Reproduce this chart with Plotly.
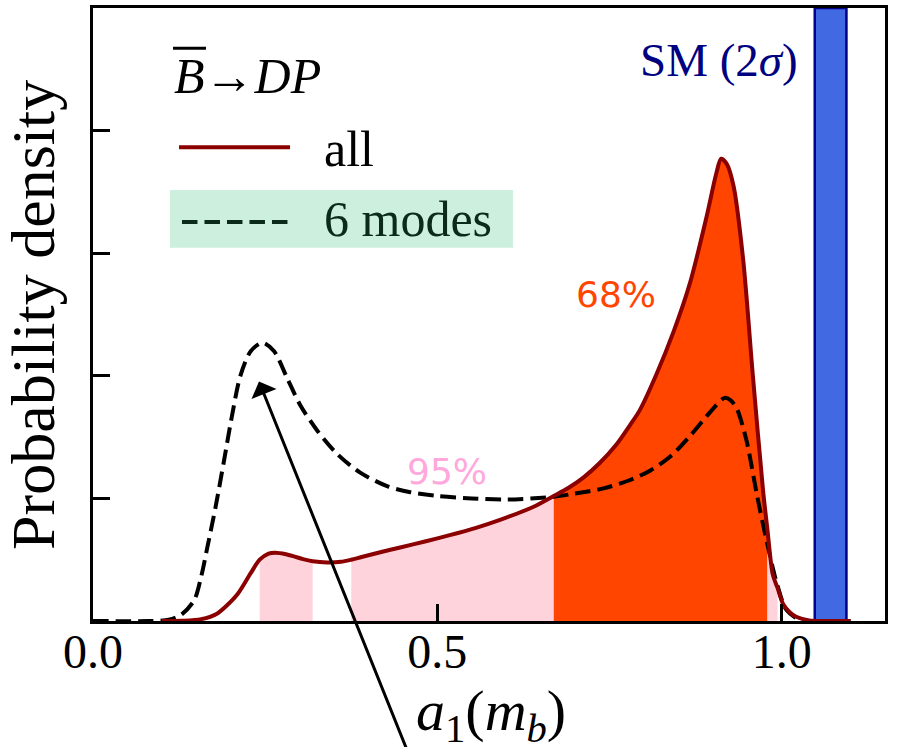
import plotly.graph_objects as go

# a1(m_b) posterior densities for B-bar -> D P
x_all = [0.10, 0.13, 0.157, 0.18, 0.195, 0.21, 0.229, 0.242, 0.255, 0.265, 0.28, 0.292,
         0.305, 0.319, 0.34, 0.36, 0.375, 0.39, 0.42, 0.446, 0.482, 0.518, 0.555, 0.591,
         0.639, 0.669, 0.69, 0.712, 0.735, 0.760, 0.78, 0.794, 0.818, 0.843, 0.867, 0.891,
         0.905, 0.912, 0.92, 0.93, 0.944, 0.958, 0.973, 0.979, 0.987, 0.994, 1.002,
         1.012, 1.021, 1.04, 1.06, 1.10]
y_all = [0.0, 0.002, 0.015, 0.06, 0.13, 0.22, 0.39, 0.50, 0.55, 0.557, 0.545, 0.527,
         0.505, 0.488, 0.478, 0.483, 0.50, 0.522, 0.565, 0.60, 0.648, 0.70, 0.758, 0.825,
         0.93, 1.02, 1.085, 1.17, 1.285, 1.44, 1.60, 1.72, 2.01, 2.36, 2.76, 3.30,
         3.65, 3.77, 3.73, 3.55, 2.95, 2.01, 1.06, 0.76, 0.38, 0.27, 0.14,
         0.07, 0.035, 0.005, 0.0, 0.0]

x_six = [0.0, 0.08, 0.11, 0.128, 0.147, 0.157, 0.166, 0.178, 0.19, 0.202, 0.214, 0.229,
         0.246, 0.263, 0.282, 0.301, 0.326, 0.355, 0.388, 0.427, 0.461, 0.50, 0.55,
         0.60, 0.669, 0.70, 0.74, 0.78, 0.81, 0.84, 0.867, 0.891, 0.905, 0.917, 0.926,
         0.935, 0.949, 0.964, 0.978, 0.993, 1.007, 1.027, 1.05, 1.10]
y_six = [0.0, 0.0, 0.01, 0.05, 0.17, 0.36, 0.60, 0.93, 1.30, 1.68, 2.00, 2.20,
         2.27, 2.20, 1.98, 1.76, 1.55, 1.36, 1.21, 1.10, 1.05, 1.02, 1.0,
         0.99, 1.013, 1.04, 1.08, 1.15, 1.23, 1.35, 1.51, 1.67, 1.76, 1.82, 1.80,
         1.73, 1.47, 1.03, 0.657, 0.306, 0.089, 0.008, 0.0, 0.0]

# credible intervals of the "all" density (pink = 95%, orange = 68%)
band95 = [(0.242, 0.319), (0.375, 0.669), (0.979, 0.994)]
band68 = [(0.669, 0.979)]

# Standard Model 2-sigma range
sm_range = (1.048, 1.094)

x_ticks = [0.0, 0.5, 1.0]
x_tick_labels = ["0.0", "0.5", "1.0"]
y_ticks = [0, 1, 2, 3, 4, 5]

SERIF = "Liberation Serif, Times New Roman, serif"
SANS = "DejaVu Sans"
DARKRED = "#8B0000"
PINK = "#FFD3DC"
ORANGE = "#FF4500"

fig = go.Figure()


def segment(lo, hi):
    xs, ys = [], []
    for xv, yv in zip(x_all, y_all):
        if lo - 1e-9 <= xv <= hi + 1e-9:
            xs.append(xv)
            ys.append(yv)
    return xs, ys


for lo, hi in band95:
    xs, ys = segment(lo, hi)
    fig.add_trace(go.Scatter(x=xs, y=ys, mode="lines", fill="tozeroy",
                             fillcolor=PINK, line=dict(width=0, shape="spline", smoothing=0.8),
                             hoverinfo="skip", showlegend=False))
for lo, hi in band68:
    xs, ys = segment(lo, hi)
    fig.add_trace(go.Scatter(x=xs, y=ys, mode="lines", fill="tozeroy",
                             fillcolor=ORANGE, line=dict(width=0, shape="spline", smoothing=0.8),
                             hoverinfo="skip", showlegend=False))

fig.add_trace(go.Scatter(x=x_six, y=y_six, mode="lines", name="6 modes",
                         line=dict(color="black", width=4, dash="15.5px,7px",
                                   shape="spline", smoothing=0.8),
                         showlegend=False))
fig.add_trace(go.Scatter(x=x_all, y=y_all, mode="lines", name="all",
                         line=dict(color=DARKRED, width=4, shape="spline", smoothing=0.8),
                         showlegend=False))

# SM band
fig.add_shape(type="rect", xref="x", yref="y", x0=sm_range[0], x1=sm_range[1],
              y0=0, y1=5, fillcolor="#4169E1", line=dict(color="#00008B", width=2.5),
              layer="below")

# legend drawn by hand
fig.add_shape(type="rect", xref="x", yref="y", x0=0.1118, x1=0.6099, y0=3.044, y1=3.515,
              fillcolor="#CDEFDE", line=dict(width=0), layer="below")
fig.add_shape(type="line", xref="x", yref="y", x0=0.1249, x1=0.2861, y0=3.864, y1=3.864,
              line=dict(color=DARKRED, width=4))
fig.add_shape(type="line", xref="x", yref="y", x0=0.1292, x1=0.283, y0=3.255, y1=3.255,
              line=dict(color="#0b2a1a", width=4, dash="15.5px,7px"))
# bar over the B
fig.add_shape(type="line", xref="x", yref="y", x0=0.1162, x1=0.1641, y0=4.671, y1=4.671,
              line=dict(color="black", width=3))

annotations = [
    dict(x=0.1147, y=4.448, text="<i>B</i>\u2192<i>DP</i>", xanchor="left",
         font=dict(family=SERIF, size=50, color="black")),
    dict(x=0.3325, y=3.847, text="all", xanchor="left",
         font=dict(family=SERIF, size=50, color="black")),
    dict(x=0.3325, y=3.279, text="6 modes", xanchor="left",
         font=dict(family=SERIF, size=50, color="#0b2a1a")),
    dict(x=1.0266, y=4.578, text="SM (2<i>\u03c3</i>)", xanchor="right",
         font=dict(family=SERIF, size=47, color="#000080")),
    dict(x=0.7594, y=2.662, text="68%", font=dict(family=SANS, size=36, color=ORANGE)),
    dict(x=0.514, y=1.2175, text="95%", font=dict(family=SANS, size=36, color="#FFA8DC")),
    dict(xref="paper", yref="paper", x=0.502, y=-0.153, xanchor="center", yanchor="middle",
         text="<i>a</i><sub>1</sub>(<i>m</i><sub><i>b</i></sub>)",
         font=dict(family=SERIF, size=58, color="black")),
    dict(x=0.241, y=1.953, ax=0.4565, ay=-1.06, axref="x", ayref="y", text="",
         showarrow=True, arrowhead=1, arrowsize=1.5, arrowwidth=3, arrowcolor="black"),
    dict(xref="paper", yref="paper", x=-0.122, y=0.5, xanchor="left", yanchor="middle",
         text="Probability density",
         textangle=-90, font=dict(family=SERIF, size=62, color="black")),
]
for a in annotations:
    a.setdefault("xref", "x")
    a.setdefault("yref", "y")
    a.setdefault("showarrow", False)
    fig.add_annotation(**a)

fig.update_layout(
    width=901, height=747,
    margin=dict(l=93, r=16, t=5, b=126),
    paper_bgcolor="white", plot_bgcolor="white",
    showlegend=False,
)
fig.update_xaxes(range=[0, 1.15], tickvals=x_ticks, ticktext=x_tick_labels,
                 ticks="inside", ticklen=17, tickwidth=2.5, tickcolor="black",
                 ticklabelstandoff=-13,
                 showline=True, linecolor="black", linewidth=2.5, mirror=True,
                 showgrid=False, zeroline=False,
                 tickfont=dict(family=SERIF, size=48, color="black"))
fig.update_yaxes(range=[0, 5], tickvals=y_ticks, showticklabels=False,
                 ticks="inside", ticklen=17, tickwidth=2.5, tickcolor="black",
                 showline=True, linecolor="black", linewidth=2.5, mirror=True,
                 showgrid=False, zeroline=False)

fig.write_html("out.html")
